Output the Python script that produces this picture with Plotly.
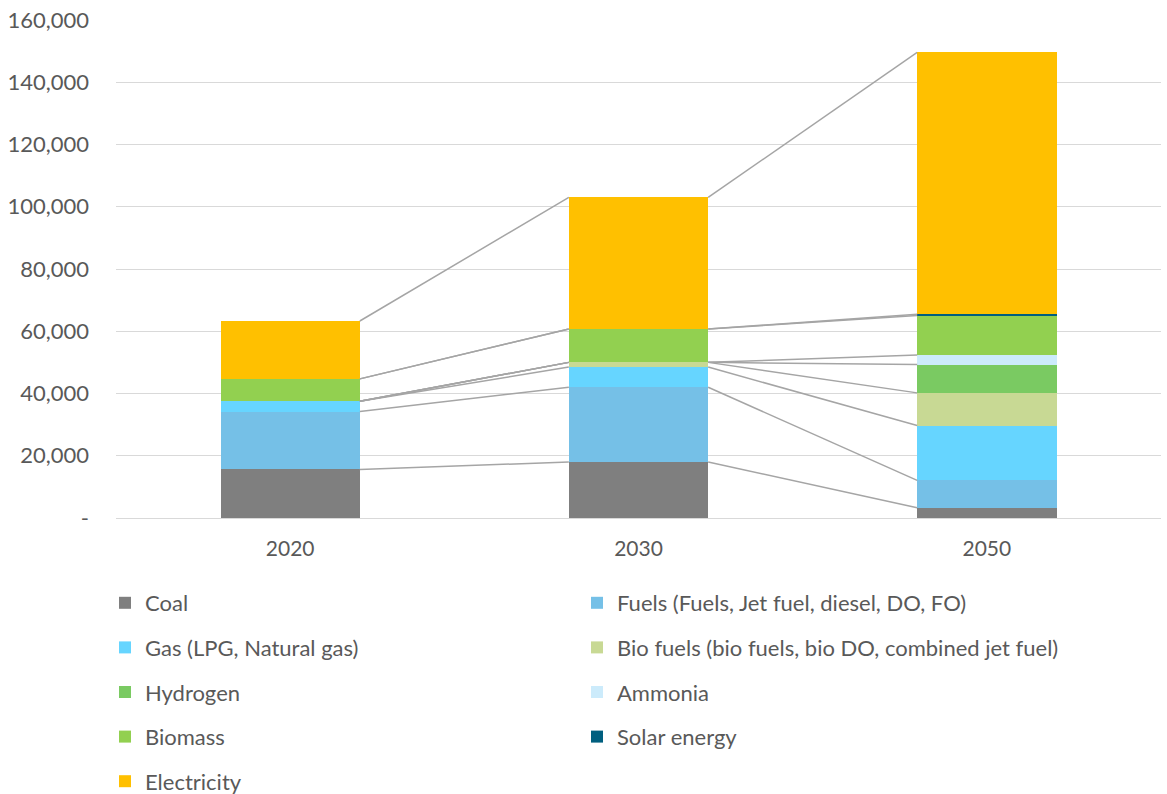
import plotly.graph_objects as go

years = ["2020", "2030", "2050"]
series_names = [
    "Coal",
    "Fuels (Fuels, Jet fuel, diesel, DO, FO)",
    "Gas (LPG, Natural gas)",
    "Bio fuels (bio fuels, bio DO, combined jet fuel)",
    "Hydrogen",
    "Ammonia",
    "Biomass",
    "Solar energy",
    "Electricity",
]
coal = [15600, 18000, 3300]
fuels = [18600, 24000, 8800]
gas = [3300, 6500, 17600]
bio_fuels = [0, 1500, 10500]
hydrogen = [0, 0, 9100]
ammonia = [0, 0, 3100]
biomass = [7200, 10700, 12700]
solar = [0, 0, 400]
electricity = [18600, 42300, 84100]
values = [coal, fuels, gas, bio_fuels, hydrogen, ammonia, biomass, solar, electricity]

colors = ["#7F7F7F", "#75C0E7", "#66D5FF", "#C8D994", "#7ACA62",
          "#CCEBFB", "#92D050", "#005F7F", "#FFC000"]

y_tickvals = [0, 20000, 40000, 60000, 80000, 100000, 120000, 140000, 160000]
y_ticktext = ["-", "20,000", "40,000", "60,000", "80,000", "100,000",
              "120,000", "140,000", "160,000"]

FONT = "Lato"
TXT = "#595959"
BAR_W = 0.4
xpos = list(range(len(years)))

fig = go.Figure()
col1 = [0, 2, 4, 6, 8]
for k, (name, vals, c) in enumerate(zip(series_names, values, colors)):
    fig.add_trace(go.Bar(
        x=xpos, y=vals, name=name, marker=dict(color=c, line=dict(width=0)),
        width=BAR_W, legend="legend" if k in col1 else "legend2",
        legendgroup=f"g{k}",
    ))

# series lines connecting the tops of each series
cum = [0] * len(years)
lx, ly = [], []
for vals in values:
    cum = [a + b for a, b in zip(cum, vals)]
    for i in range(len(years) - 1):
        lx += [xpos[i] + BAR_W / 2, xpos[i + 1] - BAR_W / 2, None]
        ly += [cum[i], cum[i + 1], None]
fig.add_trace(go.Scatter(x=lx, y=ly, mode="lines", showlegend=False,
                         line=dict(color="#A5A5A5", width=1.5), hoverinfo="skip"))

leg_common = dict(
    xref="container", yref="container", orientation="v",
    font=dict(family=FONT, size=22, color=TXT), tracegroupgap=13,
    bgcolor="rgba(0,0,0,0)", yanchor="top", xanchor="left",
    traceorder="grouped",
)
fig.update_layout(
    barmode="stack",
    width=1167, height=794,
    margin=dict(l=116, r=6, t=20, b=276, autoexpand=False),
    paper_bgcolor="white", plot_bgcolor="white",
    font=dict(family=FONT, size=22, color=TXT),
    xaxis=dict(range=[-0.5, 2.5], tickvals=xpos, ticktext=years,
               showgrid=False, showline=True, linecolor="#D9D9D9", linewidth=1,
               ticks="", zeroline=False, tickfont=dict(size=21, color=TXT),
               ticklabelstandoff=12),
    yaxis=dict(range=[0, 160000], tickvals=y_tickvals, ticktext=y_ticktext,
               showgrid=True, gridcolor="#D9D9D9", gridwidth=1, zeroline=False,
               showline=False, ticks="", ticklabelstandoff=26,
               tickfont=dict(size=22, color=TXT)),
    legend=dict(x=105 / 1167, y=1 - 582 / 794, **leg_common),
    legend2=dict(x=577 / 1167, y=1 - 582 / 794, **leg_common),
    bargap=0.6,
)
fig.write_html("out.html")
